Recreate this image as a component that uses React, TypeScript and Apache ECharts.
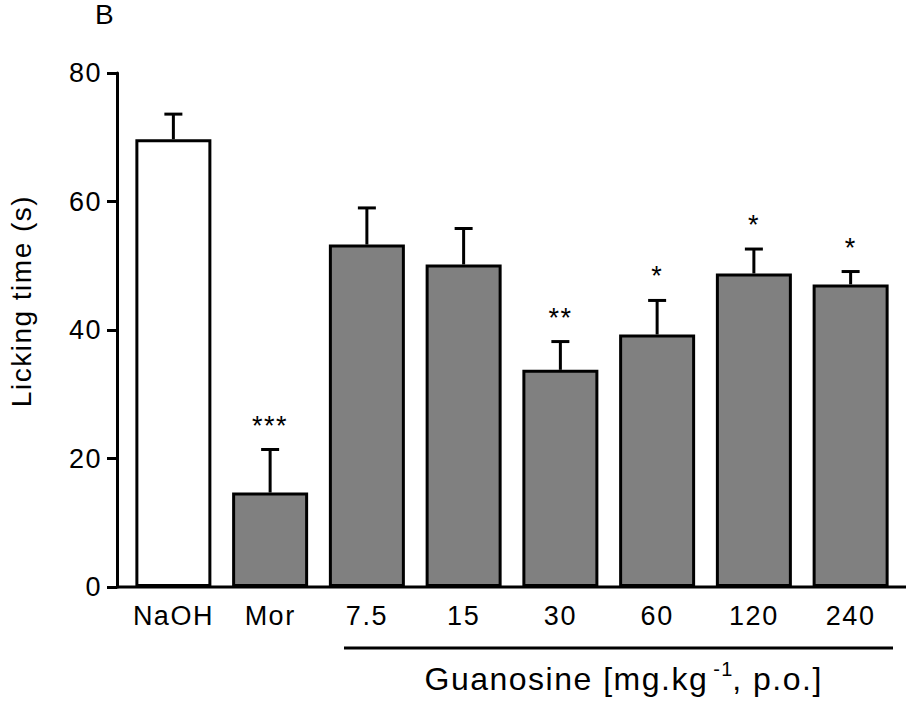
import React, { useEffect, useRef } from "react";
import * as echarts from "echarts";

const categories = ["NaOH", "Mor", "7.5", "15", "30", "60", "120", "240"];
const means = [69.7, 14.7, 53.3, 50.2, 33.8, 39.3, 48.8, 47.1];
const sems = [3.9, 6.7, 5.7, 5.6, 4.4, 5.3, 3.8, 2.0];
const stars = ["", "***", "", "", "**", "*", "*", "*"];
const yTicks = [0, 20, 40, 60, 80];

const FONT = "'Liberation Sans', Arial, sans-serif";
const LS = 1.5; // css letter spacing (px)

export default function App() {
  const ref = useRef<HTMLDivElement>(null);
  useEffect(() => {
    if (!ref.current) return;
    const chart = echarts.init(ref.current, null, { renderer: "svg" });
    const errData = means.map((m, i) => [i, m, m + sems[i]]);
    const part1 = "Guanosine [mg.kg";
    const part2 = "-1";
    chart.setOption({
      animation: false,
      textStyle: { fontFamily: FONT },
      grid: { left: 125, top: 73, width: 774, height: 514 },
      xAxis: {
        type: "category",
        data: categories,
        axisLine: { show: false },
        axisTick: { show: false },
        axisLabel: { fontSize: 27, color: "#000", margin: 15, fontFamily: FONT, interval: 0 },
      },
      yAxis: {
        type: "value",
        min: yTicks[0],
        max: yTicks[yTicks.length - 1],
        interval: 20,
        offset: 8,
        splitLine: { show: false },
        axisLine: { show: true, lineStyle: { color: "#000", width: 3 } },
        axisTick: { show: true, length: 10, lineStyle: { color: "#000", width: 3 } },
        axisLabel: { fontSize: 27, color: "#000", margin: 15, fontFamily: FONT },
      },
      series: [
        {
          type: "bar",
          barWidth: 76,
          data: means.map((m, i) => ({
            value: m,
            itemStyle: { color: i === 0 ? "#ffffff" : "#808080" },
          })),
          itemStyle: { borderColor: "#000", borderWidth: 3 },
          z: 2,
        },
        {
          type: "custom",
          data: errData,
          z: 3,
          renderItem: (params: any, api: any) => {
            const x = api.value(0);
            const lo = api.coord([x, api.value(1)]);
            const hi = api.coord([x, api.value(2)]);
            const star = stars[params.dataIndex];
            const children: any[] = [
              {
                type: "line",
                shape: { x1: lo[0], y1: lo[1], x2: hi[0], y2: hi[1] },
                style: { stroke: "#000", lineWidth: 3 },
              },
              {
                type: "line",
                shape: { x1: hi[0] - 9, y1: hi[1], x2: hi[0] + 9, y2: hi[1] },
                style: { stroke: "#000", lineWidth: 3 },
              },
            ];
            if (star) {
              children.push({
                type: "text",
                x: hi[0],
                y: hi[1] - 24,
                style: {
                  text: star,
                  fontSize: 27,
                  fontFamily: FONT,
                  fill: "#000",
                  align: "center",
                  verticalAlign: "middle",
                },
              });
            }
            return { type: "group", children };
          },
        },
      ],
      graphic: [
        {
          type: "line",
          shape: { x1: 117, y1: 587, x2: 906, y2: 587 },
          style: { stroke: "#000", lineWidth: 3 },
          z: 10,
        },
        {
          type: "line",
          shape: { x1: 344, y1: 648, x2: 893, y2: 648 },
          style: { stroke: "#000", lineWidth: 3 },
        },
        {
          type: "text",
          x: 95,
          y: 14,
          style: {
            text: "B",
            fontSize: 28,
            fontFamily: FONT,
            fill: "#000",
            verticalAlign: "middle",
          },
        },
        {
          type: "text",
          x: 21,
          y: 301,
          rotation: Math.PI / 2,
          style: {
            text: "Licking time (s)",
            fontSize: 28,
            fontFamily: FONT,
            fill: "#000",
            align: "center",
            verticalAlign: "middle",
          },
        },
        {
          type: "text",
          x: 627,
          y: 695,
          style: {
            text: "{a|" + part1 + "}{s|" + part2 + "}{b|, p.o.]}",
            fontFamily: FONT,
            fill: "#000",
            align: "center",
            verticalAlign: "bottom",
            rich: {
              a: { fontSize: 32, fontFamily: FONT, fill: "#000", verticalAlign: "bottom", lineHeight: 36, padding: [0, (part1.length - 1) * LS - 4, 0, 0] },
              s: { fontSize: 20, fontFamily: FONT, fill: "#000", verticalAlign: "top", lineHeight: 30, padding: [0, part2.length * LS + 2, 0, 0] },
              b: { fontSize: 32, fontFamily: FONT, fill: "#000", verticalAlign: "bottom", lineHeight: 36 },
            },
          },
        },
      ],
    });
    return () => chart.dispose();
  }, []);
  return (
    <div
      ref={ref}
      style={{ width: 909, height: 702, position: "absolute", left: 0, top: 0, letterSpacing: LS + "px" }}
    />
  );
}
